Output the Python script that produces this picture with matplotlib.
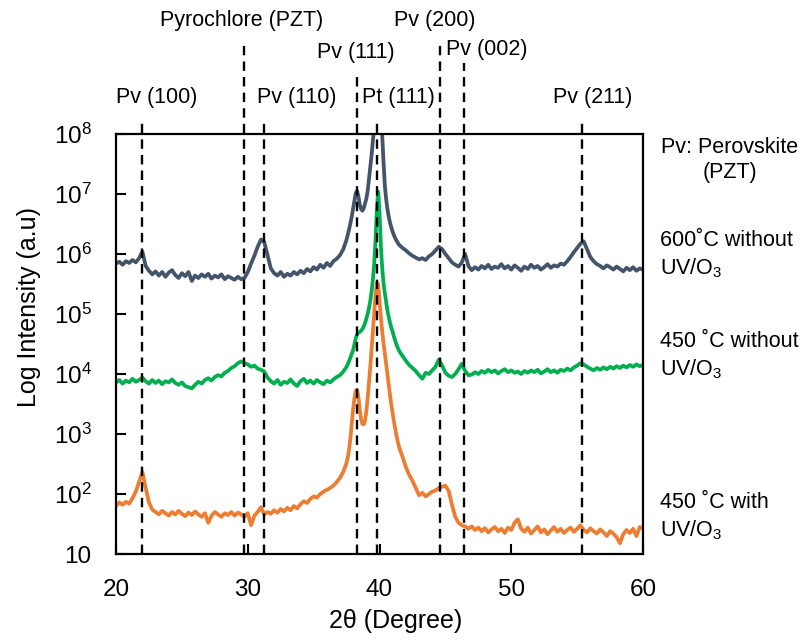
import numpy as np
import matplotlib
matplotlib.use('Agg')
import matplotlib.pyplot as plt
from matplotlib.ticker import NullLocator

plt.rcParams['font.family'] = ['Liberation Sans', 'DejaVu Sans']
plt.rcParams['mathtext.fontset'] = 'custom'
plt.rcParams['mathtext.rm'] = 'Liberation Sans'
plt.rcParams['mathtext.it'] = 'Liberation Sans:italic'

# 2theta sampling: coarse on the flat parts, finer around the Pv(111)/Pt(111) region
two_theta = np.concatenate([np.linspace(20.0, 37.5, 71),
                            np.linspace(37.6, 41.4, 39),
                            np.linspace(41.5, 60.0, 75)])

# log10(intensity) for each film
log_600_without = [
    # 20.0 - 37.5
    5.84, 5.87, 5.82, 5.88, 5.85, 5.90, 5.86, 5.93, 6.04, 5.80, 5.72, 5.66, 5.71, 5.64, 5.70, 5.62,
    5.69, 5.73, 5.65, 5.60, 5.68, 5.63, 5.70, 5.55, 5.64, 5.60, 5.66, 5.62, 5.67, 5.59, 5.64, 5.61,
    5.66, 5.58, 5.63, 5.60, 5.57, 5.62, 5.58, 5.60, 5.70, 5.84, 5.97, 6.12, 6.24, 6.20, 5.98, 5.76,
    5.68, 5.64, 5.70, 5.62, 5.67, 5.64, 5.70, 5.66, 5.72, 5.68, 5.75, 5.71, 5.78, 5.74, 5.82, 5.77,
    5.85, 5.80, 5.88, 5.92, 5.98, 6.08, 6.24,
    # 37.6 - 41.4
    6.33, 6.42, 6.52, 6.63, 6.76, 6.90, 7.02, 7.05, 6.96, 6.82, 6.75, 6.72, 6.76, 6.84, 6.92, 7.05,
    7.25, 7.45, 7.65, 7.90, 8.10, 8.40, 8.70, 8.80, 8.60, 8.25, 8.00, 7.55, 7.15, 6.92, 6.75, 6.62,
    6.52, 6.44, 6.37, 6.31, 6.26, 6.22, 6.18,
    # 41.5 - 60.0
    6.15, 6.10, 6.06, 6.01, 5.97, 5.94, 5.91, 5.93, 5.90, 5.96, 6.00, 6.06, 6.12, 6.08,
    6.00, 5.93, 5.86, 5.82, 5.79, 5.86, 6.00, 5.80, 5.73, 5.78, 5.74, 5.80, 5.76, 5.82, 5.75, 5.79,
    5.77, 5.83, 5.76, 5.80, 5.74, 5.81, 5.77, 5.72, 5.79, 5.75, 5.82, 5.77, 5.80, 5.74, 5.78, 5.83,
    5.77, 5.81, 5.79, 5.84, 5.82, 5.88, 5.95, 6.03, 6.10, 6.17, 6.21, 6.08, 5.95, 5.88, 5.83, 5.80,
    5.76, 5.81, 5.78, 5.74, 5.79, 5.75, 5.71, 5.77, 5.73, 5.78, 5.72, 5.76, 5.74,
]

log_450_without = [
    # 20.0 - 37.5
    3.86, 3.90, 3.84, 3.89, 3.86, 3.92, 3.87, 3.90, 3.94, 3.88, 3.84, 3.90, 3.85, 3.89, 3.83, 3.88,
    3.86, 3.91, 3.85, 3.82, 3.86, 3.80, 3.78, 3.76, 3.82, 3.87, 3.84, 3.90, 3.93, 3.89, 3.95, 3.98,
    3.96, 4.02, 4.05, 4.10, 4.13, 4.18, 4.21, 4.18, 4.16, 4.12, 4.14, 4.09, 4.07, 4.04, 3.94, 3.88,
    3.84, 3.90, 3.82, 3.87, 3.85, 3.91, 3.84, 3.80, 3.88, 3.92, 3.85, 3.89, 3.84, 3.90, 3.86, 3.83,
    3.89, 3.86, 3.91, 3.95, 3.98, 4.04, 4.12,
    # 37.6 - 41.4
    4.17, 4.22, 4.28, 4.34, 4.40, 4.50, 4.60, 4.66, 4.69, 4.70, 4.72, 4.75, 4.79, 4.85, 4.92, 5.00,
    5.10, 5.22, 5.38, 5.58, 5.85, 6.25, 6.75, 7.04, 6.70, 6.15, 5.78, 5.52, 5.35, 5.20, 5.06, 4.95,
    4.85, 4.77, 4.70, 4.62, 4.55, 4.48, 4.43,
    # 41.5 - 60.0
    4.38, 4.30, 4.22, 4.15, 4.10, 4.05, 3.98, 3.92, 4.02, 4.00, 4.06, 4.12, 4.24, 4.14,
    4.02, 3.97, 3.95, 4.00, 4.08, 4.17, 4.05, 3.98, 3.99, 4.03, 4.00, 4.05, 4.02, 4.07, 4.03, 4.06,
    4.01, 4.05, 4.08, 4.03, 4.06, 4.02, 4.04, 4.00, 4.05, 4.02, 4.06, 4.03, 4.07, 4.01, 4.04, 4.08,
    4.03, 4.06, 4.02, 4.07, 4.05, 4.09, 4.06, 4.11, 4.14, 4.18, 4.16, 4.12, 4.09, 4.06, 4.10, 4.07,
    4.11, 4.08, 4.12, 4.09, 4.13, 4.10, 4.14, 4.11, 4.15, 4.12, 4.16, 4.13, 4.15,
]

log_450_with = [
    # 20.0 - 37.5
    1.80, 1.86, 1.82, 1.87, 1.84, 1.93, 2.04, 2.20, 2.37, 2.10, 1.86, 1.74, 1.70, 1.66, 1.72, 1.68,
    1.64, 1.70, 1.66, 1.72, 1.67, 1.63, 1.69, 1.65, 1.71, 1.66, 1.62, 1.68, 1.52, 1.64, 1.70, 1.66,
    1.62, 1.68, 1.65, 1.70, 1.64, 1.69, 1.66, 1.62, 1.68, 1.48, 1.64, 1.70, 1.78, 1.66, 1.70, 1.67,
    1.73, 1.69, 1.75, 1.71, 1.77, 1.73, 1.80, 1.76, 1.83, 1.88, 1.85, 1.92, 1.96, 1.94, 2.00, 2.04,
    2.07, 2.10, 2.14, 2.20, 2.27, 2.37, 2.52,
    # 37.6 - 41.4
    2.62, 2.76, 2.95, 3.18, 3.42, 3.60, 3.72, 3.74, 3.62, 3.40, 3.25, 3.17, 3.16, 3.22, 3.38, 3.60,
    3.85, 4.12, 4.42, 4.72, 5.02, 5.32, 5.52, 5.50, 5.22, 4.95, 4.72, 4.52, 4.35, 4.18, 4.00, 3.82,
    3.64, 3.48, 3.34, 3.20, 3.08, 2.96, 2.86,
    # 41.5 - 60.0
    2.77, 2.62, 2.45, 2.32, 2.22, 2.10, 1.98, 2.02, 1.96, 2.00, 2.04, 2.06, 2.10, 2.12,
    2.14, 2.05, 1.82, 1.62, 1.52, 1.48, 1.46, 1.42, 1.46, 1.40, 1.44, 1.38, 1.43, 1.36, 1.41, 1.45,
    1.38, 1.42, 1.35, 1.44, 1.40, 1.52, 1.58, 1.42, 1.37, 1.44, 1.34, 1.40, 1.46, 1.36, 1.41, 1.33,
    1.39, 1.45, 1.37, 1.42, 1.35, 1.40, 1.44, 1.37, 1.42, 1.48, 1.40, 1.36, 1.43, 1.38, 1.34, 1.41,
    1.36, 1.30, 1.38, 1.34, 1.28, 1.18, 1.33, 1.40, 1.35, 1.42, 1.30, 1.45, 1.42,
]

# reference peak positions, labels, top of the dashed marker (axes fraction) and label placement
peak_pos = [22.0, 29.7, 31.2, 38.3, 39.8, 44.6, 46.4, 55.4]
peak_names = ['Pv (100)', 'Pyrochlore (PZT)', 'Pv (110)', 'Pv (111)', 'Pt (111)',
              'Pv (200)', 'Pv (002)', 'Pv (211)']
line_tops = [1.038, 1.219, 1.038, 1.148, 1.038, 1.224, 1.169, 1.038]
label_x = [23.1, 29.5, 33.7, 38.2, 41.45, 44.2, 48.15, 56.2]
label_y = [1.088, 1.271, 1.088, 1.195, 1.088, 1.271, 1.2, 1.088]

series_names = ['600˚C without\nUV/O$_3$', '450 ˚C without\nUV/O$_3$', '450 ˚C with\nUV/O$_3$']
series_label_y = [0.712, 0.471, 0.087]
colors = ['#44546A', '#00B050', '#ED7D31']

fig = plt.figure(figsize=(8.08, 6.41), dpi=100)
ax = fig.add_axes([0.1436, 0.1357, 0.6522, 0.6553])

for vals, c in zip([log_600_without, log_450_without, log_450_with], colors):
    ax.plot(two_theta, 10 ** np.array(vals), color=c, lw=2.7, zorder=2)

for pos, top in zip(peak_pos, line_tops):
    ax.axvline(pos, ymin=0, ymax=top, color='black', lw=1.7, dashes=(4, 2.6),
               clip_on=False, zorder=3)

tr = ax.get_xaxis_transform()
for name, lx, ly in zip(peak_names, label_x, label_y):
    ax.text(lx, ly, name, transform=tr, ha='center', va='center', fontsize=15.5)

ax.text(1.165, 0.938, 'Pv: Perovskite\n(PZT)', transform=ax.transAxes, ha='center',
        va='center', fontsize=15.5, multialignment='center', linespacing=1.25)
for name, ly in zip(series_names, series_label_y):
    ax.text(1.032, ly, name, transform=ax.transAxes, ha='left', va='center',
            fontsize=15.5, linespacing=1.3)

ax.set_yscale('log')
ax.set_xlim(20, 60)
ax.set_ylim(10, 1e8)
ax.set_xticks([20, 30, 40, 50, 60])
ax.set_yticks([10 ** k for k in range(1, 9)])
ax.set_yticklabels(['10'] + [r'$\mathregular{10^{%d}}$' % k for k in range(2, 9)])
ax.yaxis.set_minor_locator(NullLocator())
ax.tick_params(direction='in', length=7, width=1.5, labelsize=17.5)
ax.tick_params(axis='y', pad=17.5)
ax.tick_params(axis='x', pad=18)
for s in ax.spines.values():
    s.set_linewidth(1.6)

ax.set_xlabel('2θ (Degree)', fontsize=18, va='center')
ax.xaxis.set_label_coords(0.531, -0.16)
ax.set_ylabel('Log Intensity (a.u)', fontsize=18, va='center')
ax.yaxis.set_label_coords(-0.165, 0.588)

fig.savefig('out.png', dpi=100)
